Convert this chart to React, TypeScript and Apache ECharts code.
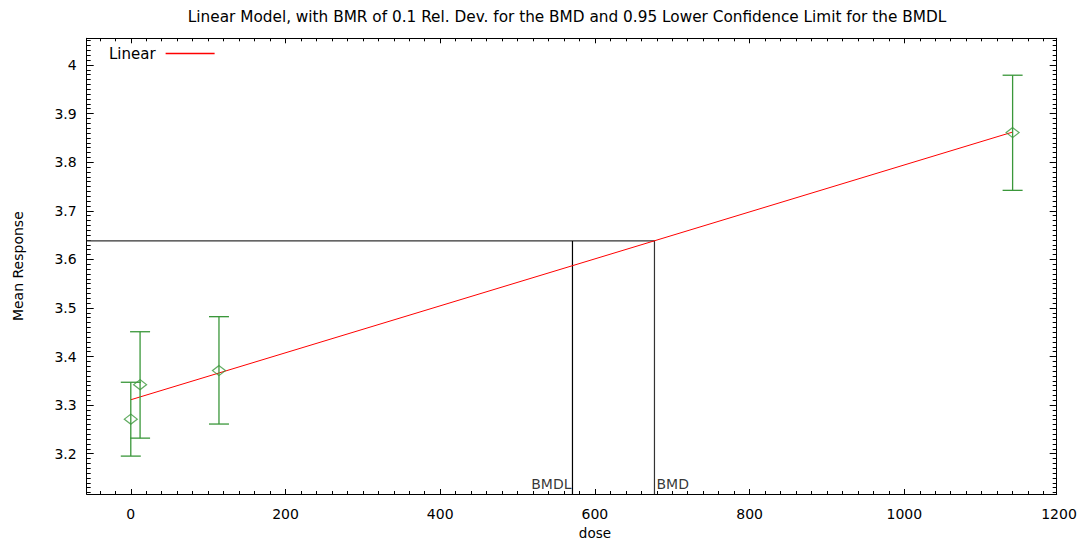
import React, { useEffect, useRef } from "react";
import * as echarts from "echarts";

const chartTitle =
  "Linear Model, with BMR of 0.1 Rel. Dev. for the BMD and 0.95 Lower Confidence Limit for the BMDL";

// observed data (dose, mean response, error bar limits)
const doses = [0, 12, 114, 1140];
const means = [3.271, 3.342, 3.371, 3.861];
const lowerLimits = [3.195, 3.232, 3.261, 3.742];
const upperLimits = [3.347, 3.451, 3.482, 3.979];

// fitted linear model, drawn between its two end points
const linearDoses = [0, 1140];
const linearResponses = [3.311, 3.862];

// benchmark values
const bmd = 677;
const bmdl = 571;
const bmdResponse = 3.638;

// axis ranges and tick labels
const xRange = [-57, 1197];
const yRange = [3.117, 4.055];
const xTickLabels = [0, 200, 400, 600, 800, 1000, 1200];
const xMajorTicks = [0, 200, 400, 600, 800, 1000];
const yTickLabels = [3.2, 3.3, 3.4, 3.5, 3.6, 3.7, 3.8, 3.9, 4.0];

const xMinorTicks: number[] = [];
for (let v = -40; v <= 1180; v += 20) xMinorTicks.push(v);
const yMinorTicks: number[] = [];
for (let i = 312; i <= 405; i++) yMinorTicks.push(i / 100);

const FONT = "DejaVu Sans";
const GREEN = "#3a973a";

export default function App() {
  const ref = useRef<HTMLDivElement>(null);

  useEffect(() => {
    if (!ref.current) return;
    const chart = echarts.init(ref.current, undefined, { renderer: "svg" });

    const xBase = {
      type: "value",
      gridIndex: 0,
      min: xRange[0],
      max: xRange[1],
      splitLine: { show: false },
      axisLabel: { show: false },
    };
    const yBase = {
      type: "value",
      gridIndex: 0,
      min: yRange[0],
      max: yRange[1],
      splitLine: { show: false },
      axisLabel: { show: false },
    };
    const line = { show: true, onZero: false, lineStyle: { color: "#000", width: 1 } };
    const noLine = { show: false, onZero: false };

    const option: any = {
      animation: false,
      backgroundColor: "#fff",
      title: {
        text: chartTitle,
        left: 567,
        top: 9,
        textAlign: "center",
        padding: 0,
        textStyle: { fontFamily: FONT, fontSize: 15.3, fontWeight: "normal", color: "#000" },
      },
      legend: {
        data: [{ name: "Linear", icon: "rect" }],
        left: 109,
        top: 46,
        align: "right",
        itemWidth: 49,
        itemHeight: 1.3,
        selectedMode: false,
        padding: 0,
        textStyle: { fontFamily: FONT, fontSize: 15, color: "#000", padding: [0, 5, 0, 0] },
      },
      grid: [
        { left: 86.7, right: 22.3, top: 38.3, bottom: 47, containLabel: false, outerBoundsMode: "none" },
        { left: 130.8, right: 20.0, top: 38.3, bottom: 47, containLabel: false, outerBoundsMode: "none" },
      ],
      xAxis: [
        {
          ...xBase,
          position: "bottom",
          axisLine: line,
          axisTick: { show: true, inside: true, length: 5, customValues: xMajorTicks, lineStyle: { color: "#000" } },
        },
        {
          ...xBase,
          position: "top",
          axisLine: line,
          axisTick: { show: true, inside: true, length: 5, customValues: xMajorTicks, lineStyle: { color: "#000" } },
        },
        {
          ...xBase,
          position: "bottom",
          axisLine: noLine,
          axisTick: { show: true, inside: true, length: 3, customValues: xMinorTicks, lineStyle: { color: "#000" } },
        },
        {
          ...xBase,
          position: "top",
          axisLine: noLine,
          axisTick: { show: true, inside: true, length: 3, customValues: xMinorTicks, lineStyle: { color: "#000" } },
        },
        {
          type: "value",
          gridIndex: 1,
          position: "bottom",
          min: 0,
          max: 1200,
          interval: 200,
          splitLine: { show: false },
          axisLine: noLine,
          axisTick: { show: false },
          axisLabel: {
            show: true,
            margin: 13,
            customValues: xTickLabels,
            formatter: (v: number) => String(v),
            fontFamily: FONT,
            fontSize: 14,
            color: "#000",
          },
          name: "dose",
          nameLocation: "middle",
          nameGap: 31,
          nameTextStyle: { fontFamily: FONT, fontSize: 13.5, color: "#000", lineHeight: 15 },
        },
      ],
      yAxis: [
        {
          ...yBase,
          position: "left",
          axisLine: line,
          axisTick: { show: true, inside: true, length: 7, customValues: yTickLabels, lineStyle: { color: "#000" } },
          axisLabel: {
            show: true,
            margin: 10,
            customValues: yTickLabels,
            formatter: (v: number) => String(v),
            fontFamily: FONT,
            fontSize: 14,
            color: "#000",
          },
          name: "Mean Response",
          nameLocation: "middle",
          nameGap: 62,
          nameRotate: 90,
          nameTextStyle: { fontFamily: FONT, fontSize: 14, color: "#000" },
        },
        {
          ...yBase,
          position: "right",
          axisLine: line,
          axisTick: { show: true, inside: true, length: 7, customValues: yTickLabels, lineStyle: { color: "#000" } },
        },
        {
          ...yBase,
          position: "left",
          axisLine: noLine,
          axisTick: { show: true, inside: true, length: 4, customValues: yMinorTicks, lineStyle: { color: "#000" } },
        },
        {
          ...yBase,
          position: "right",
          axisLine: noLine,
          axisTick: { show: true, inside: true, length: 4, customValues: yMinorTicks, lineStyle: { color: "#000" } },
        },
        { type: "value", gridIndex: 1, show: false, min: yRange[0], max: yRange[1] },
      ],
      series: [
        {
          name: "Linear",
          type: "line",
          xAxisIndex: 0,
          yAxisIndex: 0,
          symbol: "none",
          data: linearDoses.map((d, i) => [d, linearResponses[i]]),
          lineStyle: { color: "#ff0000", width: 1 },
          itemStyle: { color: "#ff0000" },
          z: 4,
        },
        {
          name: "BMD",
          type: "line",
          xAxisIndex: 0,
          yAxisIndex: 0,
          symbol: "none",
          data: [
            [xRange[0], bmdResponse],
            [bmd, bmdResponse],
            [bmd, yRange[0]],
          ],
          lineStyle: { color: "#333", width: 1.2 },
          z: 3,
        },
        {
          name: "BMDL",
          type: "line",
          xAxisIndex: 0,
          yAxisIndex: 0,
          symbol: "none",
          data: [
            [bmdl, yRange[0]],
            [bmdl, bmdResponse],
          ],
          lineStyle: { color: "#000", width: 1.2 },
          z: 3,
        },
        {
          name: "BMD labels",
          type: "scatter",
          xAxisIndex: 0,
          yAxisIndex: 0,
          symbolSize: 0,
          silent: true,
          data: [
            {
              value: [bmdl, yRange[0]],
              label: { show: true, formatter: "BMDL", position: [-1, -3], align: "right", verticalAlign: "bottom" },
            },
            {
              value: [bmd, yRange[0]],
              label: { show: true, formatter: "BMD", position: [2, -3], align: "left", verticalAlign: "bottom" },
            },
          ],
          label: { fontFamily: FONT, fontSize: 14, color: "#000" },
          z: 5,
        },
        {
          name: "Error bars",
          type: "custom",
          xAxisIndex: 0,
          yAxisIndex: 0,
          data: doses.map((d, i) => [d, lowerLimits[i], upperLimits[i]]),
          encode: { x: 0, y: [1, 2] },
          renderItem: (params: any, api: any) => {
            const x = api.value(0);
            const lo = api.coord([x, api.value(1)]);
            const hi = api.coord([x, api.value(2)]);
            const hw = 10;
            const style = { stroke: GREEN, lineWidth: 1.3 };
            return {
              type: "group",
              children: [
                { type: "line", shape: { x1: lo[0], y1: lo[1], x2: hi[0], y2: hi[1] }, style },
                { type: "line", shape: { x1: lo[0] - hw, y1: lo[1], x2: lo[0] + hw, y2: lo[1] }, style },
                { type: "line", shape: { x1: hi[0] - hw, y1: hi[1], x2: hi[0] + hw, y2: hi[1] }, style },
              ],
            };
          },
          z: 5,
        },
        {
          name: "Observed means",
          type: "scatter",
          xAxisIndex: 0,
          yAxisIndex: 0,
          symbol: "diamond",
          symbolSize: [13, 10],
          data: doses.map((d, i) => [d, means[i]]),
          itemStyle: { color: "rgba(255,255,255,0)", borderColor: GREEN, borderWidth: 1.2 },
          z: 6,
        },
      ],
    };

    chart.setOption(option);
    return () => chart.dispose();
  }, []);

  return (
    <div
      ref={ref}
      style={{ position: "fixed", left: 0, top: 0, width: 1079, height: 541, background: "#fff" }}
    />
  );
}
